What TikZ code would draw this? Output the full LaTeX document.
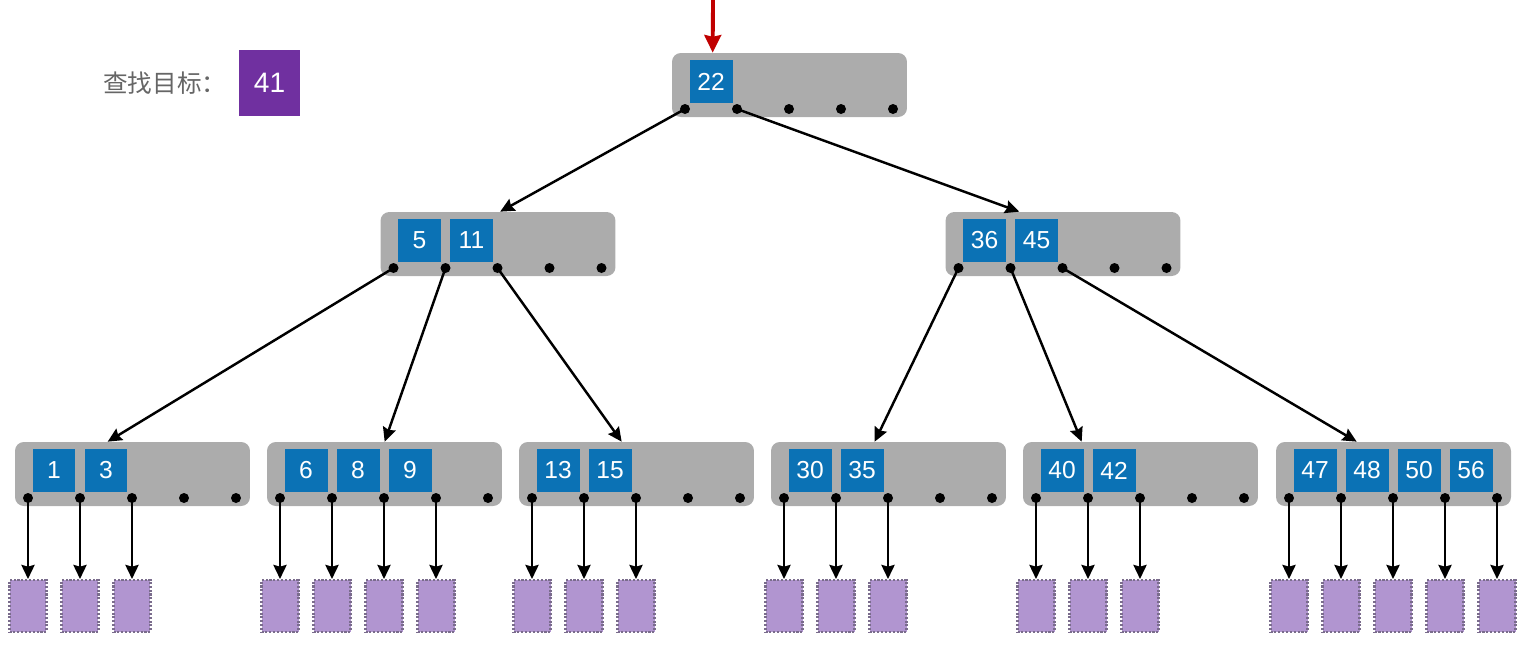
\documentclass[tikz,border=0pt]{standalone}
\usepackage{fontspec}
\setmainfont{Liberation Sans}
\newfontfamily\cjk{Noto Sans CJK SC}
\usetikzlibrary{positioning,calc,arrows.meta}
\definecolor{pagegray}{HTML}{ACACAC}
\definecolor{keyblue}{HTML}{0B72B5}
\definecolor{leafpurple}{HTML}{B195D0}
\definecolor{leafedge}{HTML}{7A6C8C}
\definecolor{goalpurple}{HTML}{7030A0}
\definecolor{labelgray}{HTML}{666666}
\definecolor{arrowred}{HTML}{C00000}
\tikzset{
  pagebox/.style={fill=pagegray, rounded corners=5pt, minimum width=4.7cm, minimum height=1.28cm, inner sep=0},
  keybox/.style={fill=keyblue, text=white, minimum size=0.86cm, inner sep=0, font=\fontsize{14}{14}\selectfont},
  ptr/.style={circle, fill=black, inner sep=0, minimum size=0.2cm},
  leafbox/.style={fill=leafpurple, draw=leafedge, densely dotted, line width=1.2pt, minimum width=0.74cm, minimum height=1.04cm, inner sep=0},
  link/.style={-{Stealth[length=8pt, width=7.5pt, inset=1pt]}, line width=1.4pt},
  redlink/.style={-{Stealth[length=10pt, width=9.5pt, inset=1pt]}, line width=2.2pt, arrowred},
  goalbox/.style={fill=goalpurple, text=white, minimum width=1.22cm, minimum height=1.32cm, inner sep=0, font=\fontsize{16}{16}\selectfont}
}
\begin{document}
\begin{tikzpicture}[x=0.02cm, y=-0.02cm]
  \useasboundingbox (0,0) rectangle (1520,664);
  % search target
  \node[anchor=west, inner sep=0, text=labelgray, font=\cjk\fontsize{14}{14}\selectfont] (goal-label) at (103,83) {查找目标：};
  \node[goalbox, right=0.24cm of goal-label] (goal) {41};
  % tree nodes: name / center x / center y / entry x / keys
  \foreach \n/\cx/\cy/\inx/\keys in {r/789.5/85/41/{22}, a/498/244/120/{5,11}, b/1063/244/74/{36,45},
      l1/132.5/474/93/{1,3}, l2/384.5/474/118/{6,8,9}, l3/636.5/474/103/{13,15},
      l4/888.5/474/104/{30,35}, l5/1140.5/474/59/{40,42}, l6/1393.5/474/81/{47,48,50,56}} {
    \node[pagebox] (\n) at (\cx,\cy) {};
    \coordinate (\n-in) at ($(\n.north west)+(\inx,0)$);
    \foreach \k [count=\i from 0] in \keys
      \node[keybox] (\n-k\i) at ($(\n)+(-78.5+52*\i,-3.5)$) {\k};
    \foreach \i in {0,...,4}
      \node[ptr] (\n-p\i) at ($(\n)+(-104.5+52*\i,24)$) {};
  }
  \coordinate (top) at (713,0);
  \draw[redlink] (top) -- (r-in);
  \draw[link] (r-p0.center) -- (a-in);
  \draw[link] (r-p1.center) -- (b-in);
  \draw[link] (a-p0.center) -- (l1-in);
  \draw[link] (a-p1.center) -- (l2-in);
  \draw[link] (a-p2.center) -- (l3-in);
  \draw[link] (b-p0.center) -- (l4-in);
  \draw[link] (b-p1.center) -- (l5-in);
  \draw[link] (b-p2.center) -- (l6-in);
  % data pages under the leaves
  \foreach \n/\np in {l1/2, l2/3, l3/2, l4/2, l5/2, l6/4}
    \foreach \i in {0,...,\np} {
      \node[leafbox] (\n-d\i) at ($(\n-p\i)+(0,108)$) {};
      \draw[link] (\n-p\i.center) -- (\n-d\i.north);
    }
\end{tikzpicture}
\end{document}
